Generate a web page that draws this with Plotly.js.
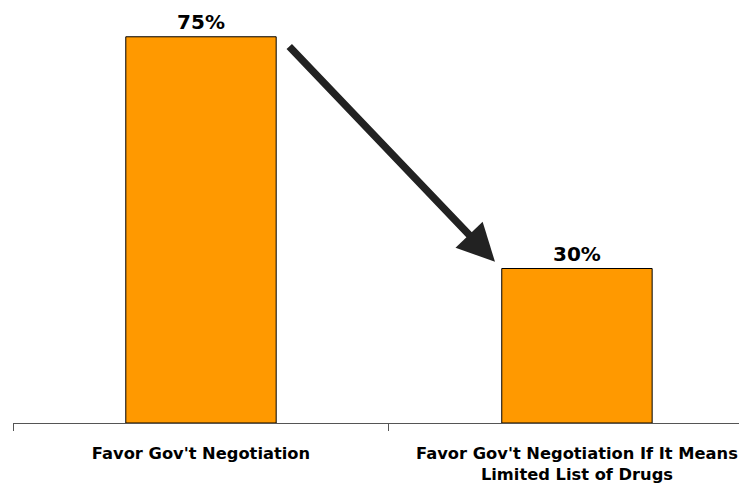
<!DOCTYPE html>
<html><head><meta charset="utf-8">
<script src="https://cdn.plot.ly/plotly-3.0.1.min.js"></script>
<style>html,body{margin:0;padding:0;background:#fff}#c{width:739px;height:483px}</style>
</head><body><div id="c"></div>
<script>
const categories = ["Favor Gov't Negotiation", "Favor Gov't Negotiation If It Means<br>Limited List of Drugs"];
const values = [75, 30];
const valueLabels = ["75%", "30%"];

const trace = {
  type: 'bar',
  x: categories,
  y: values,
  text: valueLabels,
  texttemplate: '%{text}',
  textposition: 'outside',
  cliponaxis: false,
  textfont: {family: 'DejaVu Sans', size: 20, color: '#000', weight: 'bold'},
  width: 0.4,
  marker: {color: '#FF9900', line: {color: '#000', width: 1}},
  hoverinfo: 'none'
};

const layout = {
  width: 739, height: 483,
  margin: {l: 13, r: 0, t: 10, b: 60},
  paper_bgcolor: '#fff', plot_bgcolor: '#fff',
  showlegend: false,
  font: {family: 'DejaVu Sans', color: '#000'},
  xaxis: {
    type: 'category',
    range: [-0.5, 1.431],
    tickson: 'boundaries',
    ticks: 'outside', ticklen: 7, tickcolor: '#555', tickwidth: 1,
    showline: true, linecolor: '#555', linewidth: 1,
    showgrid: false, zeroline: false,
    ticklabelstandoff: 15,
    tickfont: {family: 'DejaVu Sans', size: 16.3, color: '#000', weight: 'bold'},
    automargin: false
  },
  yaxis: {range: [0, 80.2], visible: false, showgrid: false, zeroline: false},
  annotations: [{
    x: 0.782, y: 31.3, xref: 'x', yref: 'y',
    ax: 0.231, ay: 73.4, axref: 'x', ayref: 'y',
    showarrow: true, arrowhead: 2, arrowsize: 1, arrowwidth: 7.5, arrowcolor: '#222',
    text: '', standoff: 0
  }]
};

Plotly.newPlot('c', [trace], layout, {displayModeBar: false, staticPlot: true});
</script></body></html>
